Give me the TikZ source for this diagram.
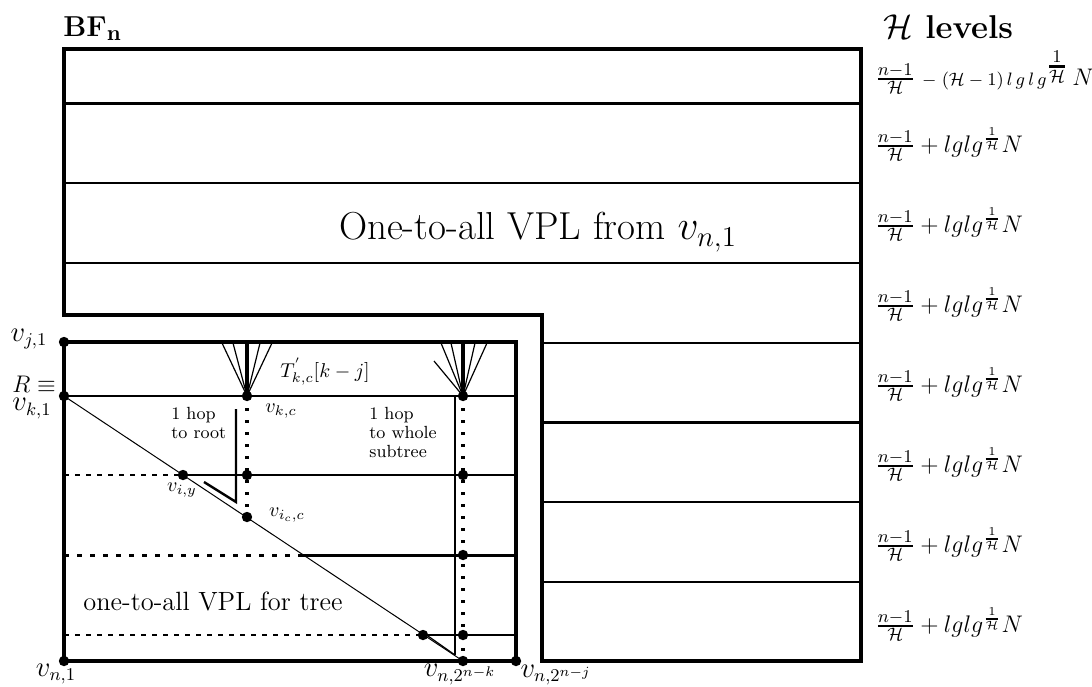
\documentclass[tikz,border=0pt]{standalone}
\usepackage{amsmath}
\usepackage{amssymb}
\usepackage{tikz}
\usetikzlibrary{calc}

\tikzset{
	outline/.style={line width=2.3pt, line join=miter},
	band/.style={line width=1pt},
	bandthick/.style={line width=1.5pt},
	level/.style={line width=1.1pt},
	levelthick/.style={line width=1.5pt},
	halfdash/.style={line width=1.1pt, dash pattern=on 2.5pt off 3pt},
	dotline/.style={line width=1.7pt, dash pattern=on 1.6pt off 4.4pt},
	fan/.style={line width=0.6pt},
	stem/.style={line width=1.7pt},
	hook/.style={line width=1.2pt},
	mlabel/.style={inner sep=0pt, font=\fontsize{13.5}{15}\selectfont},
	slabel/.style={inner sep=0pt, font=\fontsize{10}{12}\selectfont},
	tinytext/.style={inner sep=0pt, align=left, anchor=north west, font=\fontsize{8.8}{9.4}\selectfont},
	levellabel/.style={inner sep=0pt, anchor=base west, font=\fontsize{13}{15}\selectfont}
}
\newcommand{\invH}{\genfrac{}{}{0.8pt}{2}{1}{\mathcal{H}}}

\begin{document}
\begin{tikzpicture}[x=0.5pt, y=-0.5pt]
	\useasboundingbox (0,0) rectangle (1092,686);
	% butterfly BF_n and its H level bands
	\draw[outline] (64,49) -- (861,49) -- (861,661) -- (542,661) -- (542,315) -- (64,315) -- cycle;
	\draw[bandthick] (64,103) -- (861,103);
	\foreach \y in {183,263}
		\draw[band] (64,\y) -- (861,\y);
	\foreach \y/\s in {343/band,422/bandthick,502/band,582/band}
		\draw[\s] (542,\y) -- (861,\y);
	\node[anchor=base west, inner sep=0pt, font=\fontsize{15.8}{19}\selectfont] (bftitle) at (63,36) {$\mathbf{BF_n}$};
	\node[anchor=base west, inner sep=0pt, font=\fontsize{16.5}{19}\selectfont\bfseries] (hlevels) at (883,38) {$\mathcal{H}$ levels};
	\node[levellabel] (lev1) at (875,85) {$\frac{n-1}{\mathcal{H}}$\;{\fontsize{9}{10}\selectfont$-\;(\mathcal{H}-1)\,l\,g\,l\,g$}$^{\genfrac{}{}{1.2pt}{1}{1}{\mathcal{H}}}\,N$};
	\foreach \y [count=\i from 2] in {143,223,303,383,463,543,623}
		\node[levellabel] (lev\i) at (875,\y+9) {$\frac{n-1}{\mathcal{H}}+lglg^{\invH}N$};
	\node[inner sep=0pt, font=\fontsize{19.5}{23}\selectfont] (vplall) at (538,232) {One-to-all VPL from $v_{n,1}$};

	% tree inside the lower part
	\coordinate (Vj1) at (64,342);
	\coordinate (Vk1) at (64,396);
	\coordinate (Vkc) at (247,396);
	\coordinate (Vkr) at (463,396);
	\coordinate (Viy) at (183,475);
	\coordinate (Vic) at (247,475);
	\coordinate (Vir) at (463,475);
	\coordinate (Vicc) at (247,517);
	\coordinate (Vmr) at (463,555);
	\coordinate (Vlx) at (423,635);
	\coordinate (Vlr) at (463,635);
	\coordinate (Vn1) at (64,661);
	\coordinate (Vnk) at (463,661);
	\coordinate (Vnj) at (516,661);

	\draw[outline] (Vj1) -- (516,342) -- (Vnj) -- (Vn1) -- cycle;
	\draw[level] (Vk1) -- (516,396);
	\draw[halfdash] (64,475) -- (Viy);
	\draw[level] (Viy) -- (516,475);
	\draw[halfdash, line width=1.5pt, dash pattern=on 2.5pt off 4pt] (64,555) -- (303,555);
	\draw[levelthick] (303,555) -- (516,555);
	\draw[halfdash, line width=1pt] (64,635) -- (Vlx);
	\draw[level] (Vlx) -- (516,635);
	\draw[line width=0.5pt] (Vk1) -- (Vnk);

	% subtrees hanging above the level k nodes
	\foreach \x in {222,233,260,272}
		\draw[fan] (Vkc) -- (\x,343);
	\draw[stem] (Vkc) -- (247,342);
	\foreach \x/\y in {434/361,441/343,451/343,475/343,487/343}
		\draw[fan] (Vkr) -- (\x,\y);
	\draw[stem] (Vkr) -- (463,342);

	\draw[dotline] (Vkc) -- (Vicc);
	\draw[dotline] (Vkr) -- (Vnk);
	\draw[hook] (236,409) -- (236,502) -- (204,482);
	\draw[hook] (455,396) -- (455,655);
	\draw[line width=0.6pt] (455,655) -- (428,636);

	\foreach \c in {Vj1,Vk1,Vkc,Vkr,Viy,Vic,Vir,Vicc,Vmr,Vlx,Vlr,Vn1,Vnk,Vnj}
		\fill (\c) circle (2.6pt);

	\node[mlabel] (lVj1) at (29,339) {$v_{j,1}$};
	\node[mlabel, align=left, anchor=north west] (lR) at (12,376) {{\fontsize{12}{13}\selectfont$R\equiv$}\\[-6pt]$v_{k,1}$};
	\node[mlabel] (lVn1) at (56,674) {$v_{n,1}$};
	\node[mlabel] (lVnk) at (460,675) {$v_{n,2^{n-k}}$};
	\node[mlabel] (lVnj) at (556,675) {$v_{n,2^{n-j}}$};
	\node[slabel] (lVkc) at (281,411) {$v_{k,c}$};
	\node[slabel] (lViy) at (182,490) {$v_{i,y}$};
	\node[slabel] (lVicc) at (287,515) {$v_{i_c,c}$};
	\node[slabel] (lT) at (325,372) {$T^{'}_{k,c}[k-j]$};
	\node[tinytext] (hoproot) at (171,407) {1 hop\\to root};
	\node[tinytext] (hopsub) at (369,407) {1 hop\\to whole\\subtree};
	\node[anchor=base west, inner sep=0pt, font=\fontsize{13.2}{15}\selectfont] (vpltree) at (83,610) {one-to-all VPL for tree};
\end{tikzpicture}
\end{document}
